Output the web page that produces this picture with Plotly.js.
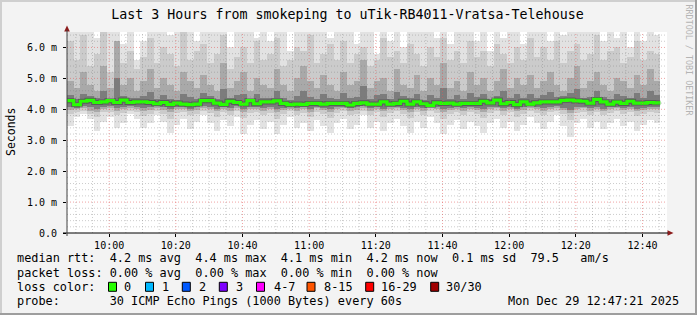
<!DOCTYPE html>
<html><head><meta charset="utf-8">
<script src="https://cdn.plot.ly/plotly-3.0.1.min.js"></script>
<style>html,body{margin:0;padding:0;background:#f3f3f3}#chart{width:697px;height:315px}</style>
</head><body><div id="chart"></div>
<script>
// ---------------- DATA ----------------
const titleText = 'Last 3 Hours from smokeping to uTik-RB4011-Vratsa-Telehouse';
const yAxisTitle = 'Seconds';
const yTickVals = [0, 1, 2, 3, 4, 5, 6];
const yTickText = ['0.0', '1.0 m', '2.0 m', '3.0 m', '4.0 m', '5.0 m', '6.0 m'];
const rangeStart = Date.UTC(2025, 11, 29, 9, 47, 21);
const rangeEnd = Date.UTC(2025, 11, 29, 12, 47, 21);
const firstTick = Date.UTC(2025, 11, 29, 10, 0, 0);
const stepMinutes = 2;

// median rtt per 2-minute column (ms)
const median = [
 4.28,4.15,4.26,4.29,4.22,4.24,4.28,4.22,4.30,4.22,
 4.24,4.24,4.22,4.18,4.22,4.16,4.20,4.17,4.15,4.17,
 4.28,4.28,4.20,4.16,4.26,4.22,4.17,4.28,4.18,4.24,
 4.24,4.27,4.19,4.15,4.17,4.16,4.19,4.19,4.17,4.19,
 4.19,4.19,4.14,4.19,4.21,4.17,4.17,4.24,4.17,4.19,
 4.26,4.17,4.24,4.18,4.13,4.21,4.19,4.20,4.17,4.19,
 4.19,4.19,4.26,4.21,4.30,4.18,4.22,4.15,4.24,4.17,
 4.21,4.24,4.24,4.24,4.29,4.30,4.27,4.26,4.20,4.32,
 4.24,4.17,4.23,4.19,4.26,4.20,4.20,4.22,4.21];
// smoke: slowest ping (top of lightest band)
const smokeMax = [
 6.6,6.6,6.6,6.6,6.3,6.6,6.6,6.6,6.1,6.6,
 5.6,6.2,6.6,6.6,6.6,6.4,6.6,6.6,6.6,6.2,
 6.6,6.6,6.6,6.6,6.0,6.6,6.6,6.6,6.3,6.6,
 6.2,6.6,6.6,5.9,6.6,6.6,6.6,6.6,6.6,6.3,
 6.6,6.6,6.6,6.1,6.6,6.6,5.8,6.6,6.2,6.6,
 6.0,6.6,6.6,6.6,6.6,6.3,6.6,6.1,6.6,6.6,
 6.6,6.2,6.6,5.9,6.6,6.3,6.6,6.6,6.1,6.6,
 6.6,6.6,6.2,6.6,6.4,6.6,6.6,6.6,6.6,6.6,
 6.2,6.6,6.3,6.6,6.0,6.6,6.2,6.6,6.4];
// fastest ping (bottom of lightest band)
const smokeMin = [
 3.45,3.75,3.85,3.70,3.30,3.60,3.75,3.40,3.55,3.85,
 3.70,3.40,3.55,3.80,3.60,3.25,3.50,3.70,3.35,3.60,
 3.80,3.55,3.30,3.65,3.45,3.75,3.20,3.50,3.65,3.35,
 3.60,3.20,3.50,3.75,3.40,3.55,3.30,3.65,3.45,3.25,
 3.55,3.70,3.35,3.50,3.80,3.40,3.60,3.30,3.55,3.70,
 3.45,3.25,3.60,3.40,3.75,3.55,3.20,3.50,3.65,3.35,
 3.60,3.45,3.25,3.55,3.70,3.40,3.60,3.30,3.50,3.75,
 3.55,3.35,3.60,3.80,3.45,3.10,3.55,3.70,3.40,3.60,
 3.35,3.55,3.70,3.45,3.60,3.30,3.50,3.65,3.55];
// second band (upper / lower)
const smokeHi2 = [
 6.2,5.6,6.4,5.4,5.8,6.6,5.2,6.0,5.5,5.9,
 5.3,5.7,6.3,5.5,6.0,5.8,5.4,6.5,5.6,5.9,
 6.1,5.5,5.8,6.4,5.3,5.7,6.0,5.5,6.2,5.6,
 5.8,6.3,5.4,5.6,6.0,5.9,6.4,5.5,5.8,6.1,
 5.6,6.2,5.5,5.8,6.0,5.4,5.6,6.3,5.7,5.9,
 5.5,6.1,5.8,5.4,6.0,5.7,6.3,5.6,5.9,5.5,
 6.2,5.7,5.9,5.4,6.1,5.8,5.5,6.0,5.6,6.3,
 5.7,6.0,5.6,6.2,5.5,5.9,6.1,5.6,5.8,6.4,
 5.6,5.9,6.0,5.5,5.7,6.2,5.6,5.9,5.8];
const smokeLo2 = [
 3.85,3.90,3.95,3.85,3.75,3.90,3.92,3.80,3.88,3.95,
 3.90,3.78,3.85,3.93,3.85,3.70,3.88,3.92,3.80,3.86,
 3.95,3.88,3.75,3.90,3.82,3.93,3.72,3.88,3.92,3.80,
 3.88,3.70,3.85,3.93,3.80,3.88,3.75,3.92,3.85,3.72,
 3.88,3.93,3.80,3.86,3.95,3.82,3.90,3.75,3.88,3.93,
 3.85,3.72,3.90,3.82,3.95,3.88,3.70,3.86,3.92,3.80,
 3.90,3.85,3.72,3.88,3.93,3.82,3.90,3.76,3.86,3.95,
 3.88,3.80,3.90,3.95,3.85,3.65,3.88,3.92,3.82,3.90,
 3.80,3.88,3.93,3.85,3.90,3.78,3.86,3.92,3.88];
// third band
const smokeHi3 = [
 4.9,4.7,5.2,4.8,4.6,5.4,4.7,6.2,4.8,5.0,
 4.6,4.9,5.3,4.7,5.0,4.8,4.6,5.2,4.9,4.7,
 5.1,4.8,4.6,5.5,4.7,4.9,5.2,4.6,5.0,4.8,
 4.7,5.3,4.8,4.6,5.0,5.4,4.9,4.7,5.1,4.8,
 4.6,5.2,4.8,4.9,5.6,4.7,4.9,5.0,4.6,5.3,
 4.8,4.7,5.1,4.6,5.0,4.8,5.5,4.7,4.9,4.6,
 5.2,4.8,5.0,4.6,4.9,5.3,4.7,5.0,4.8,5.1,
 4.7,4.9,5.2,4.8,4.6,5.0,5.4,4.7,4.9,5.2,
 4.8,4.6,5.0,4.9,4.7,5.1,4.8,5.3,4.9];
const smokeLo3 = [
 3.98,4.02,4.04,3.96,3.92,4.00,4.03,3.95,4.00,4.04,
 4.02,3.94,3.98,4.03,3.97,3.90,4.00,4.02,3.95,3.99,
 4.04,4.00,3.93,4.02,3.96,4.03,3.91,4.00,4.02,3.95,
 4.00,3.90,3.98,4.02,3.95,4.00,3.92,4.03,3.98,3.91,
 4.00,4.03,3.95,3.99,4.04,3.96,4.01,3.93,4.00,4.03,
 3.98,3.92,4.01,3.96,4.04,4.00,3.90,3.99,4.02,3.95,
 4.01,3.98,3.92,4.00,4.03,3.96,4.01,3.94,3.99,4.04,
 4.00,3.95,4.01,4.04,3.98,3.88,4.00,4.03,3.96,4.01,
 3.95,4.00,4.03,3.98,4.01,3.94,3.99,4.02,4.00];
// darkest band around the median
const smokeHi4 = [
 4.45,4.32,4.50,4.42,4.36,4.58,4.34,5.00,4.44,4.38,
 4.36,4.42,4.55,4.32,4.45,4.33,4.30,4.50,4.40,4.32,
 4.52,4.42,4.34,4.65,4.38,4.45,4.50,4.32,4.48,4.36,
 4.36,4.60,4.38,4.30,4.42,4.58,4.40,4.34,4.50,4.36,
 4.32,4.52,4.35,4.40,4.75,4.33,4.45,4.50,4.32,4.55,
 4.42,4.35,4.50,4.31,4.45,4.38,4.70,4.33,4.46,4.32,
 4.52,4.40,4.48,4.32,4.42,4.60,4.36,4.48,4.38,4.50,
 4.36,4.45,4.55,4.40,4.44,4.52,4.65,4.36,4.40,4.58,
 4.40,4.33,4.48,4.42,4.36,4.52,4.38,4.60,4.45];
const smokeLo4 = [
 4.08,4.04,4.10,4.08,4.02,4.06,4.10,4.04,4.08,4.10,
 4.08,4.05,4.06,4.10,4.06,4.00,4.06,4.08,4.02,4.06,
 4.10,4.08,4.02,4.08,4.04,4.10,4.00,4.06,4.08,4.04,
 4.06,4.00,4.05,4.08,4.04,4.06,4.02,4.09,4.05,4.00,
 4.06,4.08,4.03,4.06,4.10,4.04,4.06,4.02,4.06,4.09,
 4.05,4.00,4.07,4.04,4.10,4.06,4.00,4.05,4.08,4.03,
 4.07,4.05,4.00,4.06,4.09,4.04,4.07,4.02,4.06,4.10,
 4.06,4.03,4.07,4.10,4.05,3.98,4.06,4.09,4.04,4.07,
 4.02,4.06,4.09,4.05,4.07,4.02,4.05,4.08,4.06];

const legendLine1 = 'median rtt:  4.2 ms avg  4.4 ms max  4.1 ms min  4.2 ms now  0.1 ms sd  79.5   am/s';
const legendLine2 = 'packet loss: 0.00 % avg  0.00 % max  0.00 % min  0.00 % now';
const legendLine3 = 'loss color:';
const legendLine4 = 'probe:       30 ICMP Echo Pings (1000 Bytes) every 60s';
const dateStamp = 'Mon Dec 29 12:47:21 2025';
const lossLabels = ['0', '1', '2', '3', '4-7', '8-15', '16-29', '30/30'];
const lossColors = ['#26ff00', '#00b8ff', '#0059ff', '#7e00ff', '#ff00ff', '#ff5500', '#ff0000', '#a00000'];
const credit = 'RRDTOOL / TOBI OETIKER';

// ---------------- LAYOUT HELPERS ----------------
const W = 697, H = 315;
const ML = 67, MR = 30, MT = 32, MB = 82;
const PW = W - ML - MR, PH = H - MT - MB;
const PX = px => (px - ML) / PW;
const PY = py => (H - MB - py) / PH;
const FONT = 'DejaVu Sans Mono, monospace';
const stepMs = stepMinutes * 60000;
const colStart = median.map((_, i) => rangeStart + i * stepMs);
const colCenter = colStart.map(t => t + stepMs / 2);

// ---------------- TRACES ----------------
const bands = [
  {lo: smokeMin, hi: smokeMax, color: '#e2e2e2'},
  {lo: smokeLo2, hi: smokeHi2, color: '#cbcbcb'},
  {lo: smokeLo3, hi: smokeHi3, color: '#a9a9a9'},
  {lo: smokeLo4, hi: smokeHi4, color: '#7c7c7c'}
];
const traces = bands.map(b => ({
  type: 'bar', x: colCenter, base: b.lo, y: b.hi.map((h, i) => h - b.lo[i]),
  width: stepMs, marker: {color: b.color, line: {width: 0}}, hoverinfo: 'skip', showlegend: false
}));
const lineX = colStart.concat([colStart[colStart.length - 1] + stepMs]);
const lineY = median.concat([median[median.length - 1]]);
traces.push({type: 'scatter', mode: 'lines', x: lineX, y: lineY, line: {shape: 'hv', color: 'rgba(30,30,30,0.35)', width: 5}, hoverinfo: 'skip', showlegend: false});
traces.push({type: 'scatter', mode: 'lines', x: lineX, y: lineY, line: {shape: 'hv', color: lossColors[0], width: 3.2}, hoverinfo: 'skip', showlegend: false});

// ---------------- SHAPES ----------------
const shapes = [];
const minorCol = 'rgba(120,120,120,0.38)', majorCol = 'rgba(225,90,90,0.55)';
for (let v = 0.2; v < 6.5; v += 0.2) {
  const r = Math.round(v * 10) / 10;
  if (Math.abs(r - Math.round(r)) < 1e-6) continue;
  shapes.push({type: 'line', xref: 'paper', yref: 'y', x0: 0, x1: 1, y0: r, y1: r, layer: 'above', line: {color: minorCol, width: 1, dash: '1px,2px'}});
}
for (let v = 1; v <= 6; v++) {
  shapes.push({type: 'line', xref: 'paper', yref: 'y', x0: 0, x1: 1, y0: v, y1: v, layer: 'above', line: {color: majorCol, width: 1, dash: '1px,2px'}});
}
for (let t = firstTick - 10 * 60000; t < rangeEnd; t += 5 * 60000) {
  if (t <= rangeStart) continue;
  const major = ((t - firstTick) % (20 * 60000)) === 0;
  shapes.push({type: 'line', xref: 'x', yref: 'paper', x0: t, x1: t, y0: 0, y1: 1, layer: 'above', line: {color: major ? majorCol : minorCol, width: 1, dash: '1px,2px'}});
}
// axis arrows
shapes.push({type: 'path', xref: 'paper', yref: 'paper', layer: 'above',
  path: `M ${PX(64.2)} ${PY(31.5)} L ${PX(69.8)} ${PY(31.5)} L ${PX(67)} ${PY(25.5)} Z`,
  fillcolor: '#8b1a1a', line: {width: 0}});
shapes.push({type: 'path', xref: 'paper', yref: 'paper', layer: 'above',
  path: `M ${PX(667.5)} ${PY(230.2)} L ${PX(667.5)} ${PY(235.8)} L ${PX(673.5)} ${PY(233)} Z`,
  fillcolor: '#8b1a1a', line: {width: 0}});
shapes.push({type: 'line', xref: 'paper', yref: 'paper', x0: PX(63), x1: PX(668), y0: 0, y1: 0, layer: 'above', line: {color: '#000', width: 1}});
shapes.push({type: 'line', xref: 'paper', yref: 'paper', x0: 0, x1: 0, y0: PY(236), y1: PY(30), layer: 'above', line: {color: '#404040', width: 1}});
// frame
shapes.push({type: 'rect', xref: 'paper', yref: 'paper', x0: PX(0), x1: PX(697), y0: PY(0), y1: PY(2), fillcolor: '#cfcfcf', line: {width: 0}});
shapes.push({type: 'rect', xref: 'paper', yref: 'paper', x0: PX(0), x1: PX(2), y0: PY(0), y1: PY(315), fillcolor: '#cfcfcf', line: {width: 0}});
shapes.push({type: 'rect', xref: 'paper', yref: 'paper', x0: PX(0), x1: PX(697), y0: PY(313), y1: PY(315), fillcolor: '#9e9e9e', line: {width: 0}});
shapes.push({type: 'rect', xref: 'paper', yref: 'paper', x0: PX(695), x1: PX(697), y0: PY(0), y1: PY(315), fillcolor: '#9e9e9e', line: {width: 0}});

// loss-colour boxes and legend text
const boxLeft = [108.5, 145.5, 182.3, 219.3, 256.5, 307, 365.7, 430.7];
const labelLeft = [122.3, 159.8, 196.8, 233.8, 271.5, 321.8, 379, 444];
const rowY = [258.3, 272.6, 286.8, 301];
const textX = 15.3;
const annotations = [];
const txtFont = {family: FONT, size: 11.85, color: '#000'};
[legendLine1, legendLine2, legendLine3, legendLine4].forEach((s, i) => {
  annotations.push({text: s.replace(/ /g, '&nbsp;'), xref: 'paper', yref: 'paper', x: PX(textX), y: PY(rowY[i]), xanchor: 'left', yanchor: 'middle', showarrow: false, font: txtFont});
});
annotations.push({text: dateStamp, xref: 'paper', yref: 'paper', x: PX(681), y: PY(rowY[3]), xanchor: 'right', yanchor: 'middle', showarrow: false, font: txtFont});
lossLabels.forEach((lab, i) => {
  shapes.push({type: 'rect', xref: 'paper', yref: 'paper', x0: PX(boxLeft[i]), x1: PX(boxLeft[i] + 8), y0: PY(rowY[2] - 4.5), y1: PY(rowY[2] + 4.5), fillcolor: lossColors[i], line: {color: '#000', width: 1}});
  annotations.push({text: lab, xref: 'paper', yref: 'paper', x: PX(labelLeft[i]), y: PY(rowY[2]), xanchor: 'left', yanchor: 'middle', showarrow: false, font: txtFont});
});
annotations.push({text: credit, xref: 'paper', yref: 'paper', x: PX(688.5), y: PY(60), xanchor: 'center', yanchor: 'middle', textangle: 90, showarrow: false, font: {family: FONT, size: 8.4, color: '#b4b4b4'}});
annotations.push({text: yAxisTitle, xref: 'paper', yref: 'paper', x: PX(10.5), y: 0.5, xanchor: 'center', yanchor: 'middle', textangle: -90, showarrow: false, font: {family: FONT, size: 11.5, color: '#000'}});

const layout = {
  width: W, height: H,
  margin: {l: ML, r: MR, t: MT, b: MB, pad: 0},
  paper_bgcolor: '#f3f3f3', plot_bgcolor: '#ffffff',
  barmode: 'overlay', bargap: 0, showlegend: false,
  title: {text: titleText, font: {family: FONT, size: 13.3, color: '#000'}, x: 347.5 / W, xref: 'container', xanchor: 'center', y: 1 - 14 / H, yref: 'container', yanchor: 'middle'},
  xaxis: {type: 'date', range: [rangeStart, rangeEnd], tick0: firstTick, dtick: 20 * 60000, tickformat: '%H:%M',
    showgrid: false, zeroline: false, showline: false, ticks: 'outside', ticklen: 3, tickcolor: '#000',
    tickfont: {family: FONT, size: 10, color: '#000'}, fixedrange: true, automargin: false},
  yaxis: {range: [0, 6.5], tickvals: yTickVals, ticktext: yTickText, showgrid: false, zeroline: false, showline: false,
    ticks: 'outside', ticklen: 3, tickcolor: '#000', ticklabelstandoff: 4,
    tickfont: {family: FONT, size: 10, color: '#000'}, fixedrange: true, automargin: false,
    title: {text: ''}},
  shapes: shapes, annotations: annotations
};
Plotly.newPlot('chart', traces, layout, {staticPlot: true, displayModeBar: false});
</script></body></html>
